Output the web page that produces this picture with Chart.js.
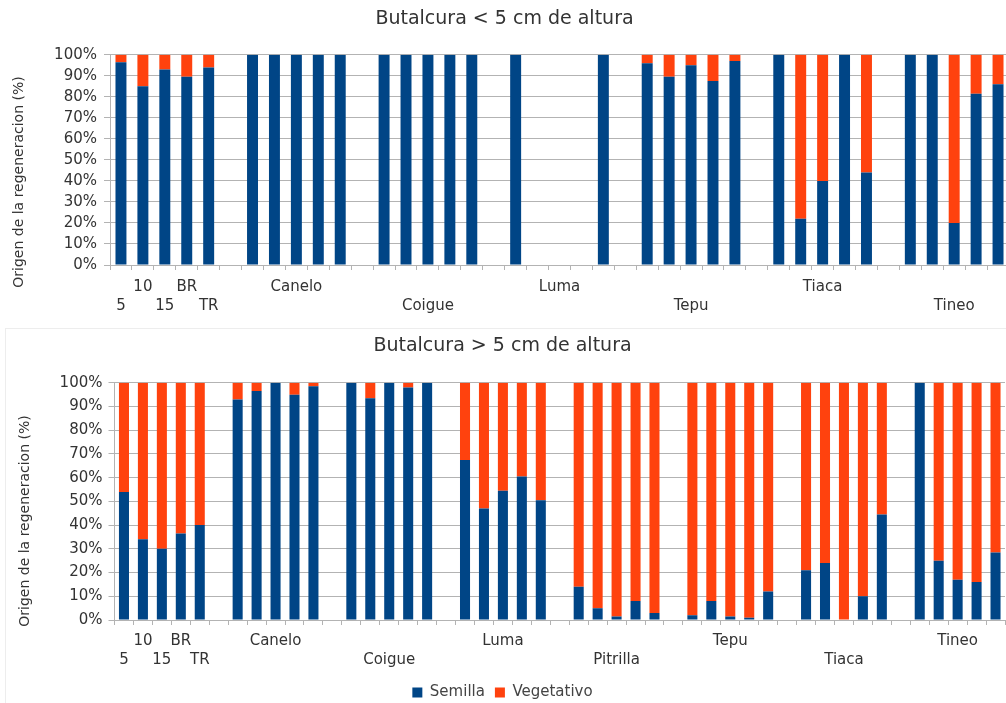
<!DOCTYPE html>
<html>
<head>
<meta charset="utf-8">
<script src="https://cdn.jsdelivr.net/npm/chart.js@4.4.0/dist/chart.umd.min.js"></script>
<style>
    html, body { margin: 0; padding: 0; background: #fff; overflow: hidden; width: 1006px; height: 703px; }
    #topChart { position: absolute; left: 0; top: 0; }
    #bottomChart { position: absolute; left: 0; top: 320px; }
    #frame { position: absolute; left: 5px; top: 328px; width: 1100px; height: 500px;
             border-left: 1px solid #ededed; border-top: 1px solid #ededed; }
</style>
</head>
<body>
<div id="frame"></div>
<canvas id="topChart" width="1010" height="320"></canvas>
<canvas id="bottomChart" width="1006" height="395"></canvas>
<script>
const sizeClasses = ['5', '10', '15', 'BR', 'TR'];
const yTicks = [0, 10, 20, 30, 40, 50, 60, 70, 80, 90, 100];

// Butalcura < 5 cm
const speciesLow = ['', 'Canelo', 'Coigue', 'Luma', 'Tepu', 'Tiaca', 'Tineo'];
const semillaLow = [
    [96.5, 85, 93, 89.5, 94],
    [100, 100, 100, 100, 100],
    [100, 100, 100, 100, 100],
    [100, null, null, null, 100],
    [96, 89.5, 95, 87.5, 97],
    [100, 22, 40, 100, 44],
    [100, 100, 20, 81.5, 86],
];
const vegetativoLow = [
    [3.5, 15, 7, 10.5, 6],
    [0, 0, 0, 0, 0],
    [0, 0, 0, 0, 0],
    [0, null, null, null, 0],
    [4, 10.5, 5, 12.5, 3],
    [0, 78, 60, 0, 56],
    [0, 0, 80, 18.5, 14],
];

// Butalcura > 5 cm
const speciesHigh = ['', 'Canelo', 'Coigue', 'Luma', 'Pitrilla', 'Tepu', 'Tiaca', 'Tineo'];
const semillaHigh = [
    [54, 34, 30, 36.5, 40],
    [93, 96.5, 100, 95, 98.5],
    [100, 93.5, 100, 98, 100],
    [67.5, 47, 54.5, 60.5, 50.5],
    [14, 5, 1.5, 8, 3],
    [2, 8, 1.5, 1, 12],
    [21, 24, 0, 10, 44.5],
    [100, 25, 17, 16, 28.5],
];
const vegetativoHigh = [
    [46, 66, 70, 63.5, 60],
    [7, 3.5, 0, 5, 1.5],
    [0, 6.5, 0, 2, 0],
    [32.5, 53, 45.5, 39.5, 49.5],
    [86, 95, 98.5, 92, 97],
    [98, 92, 98.5, 99, 88],
    [79, 76, 100, 90, 55.5],
    [0, 75, 83, 84, 71.5],
];

const BLUE = '#004586';
const ORANGE = '#ff420e';
const GRID = '#b3b3b3';
const TEXT = '#333';

Chart.defaults.font.family = '"DejaVu Sans", sans-serif';
Chart.defaults.color = TEXT;

// one slot per size class, an empty slot between species; labels alternate rows
function buildSlots(species, semilla, vegetativo) {
    const labels = [], sem = [], veg = [];
    let k = 0;
    species.forEach((name, g) => {
        if (g > 0) { labels.push(''); sem.push(null); veg.push(null); }
        for (let i = 0; i < 5; i++) {
            let text = '';
            if (g === 0) text = sizeClasses[i];
            else if (i === 2) text = name;
            if (text) {
                labels.push(k % 2 === 0 ? ['', text] : [text, '']);
                k++;
            } else {
                labels.push('');
            }
            sem.push(semilla[g][i]);
            veg.push(vegetativo[g][i]);
        }
    });
    return { labels, sem, veg };
}

const sideTitle = {
    id: 'sideTitle',
    afterDraw(chart, args, opts) {
        const ctx = chart.ctx;
        ctx.save();
        ctx.translate(opts.x, opts.y);
        ctx.rotate(-Math.PI / 2);
        ctx.font = '14px "DejaVu Sans"';
        ctx.fillStyle = TEXT;
        ctx.textAlign = 'center';
        ctx.textBaseline = 'middle';
        ctx.fillText(opts.text, 0, 0);
        ctx.restore();
    }
};

function makeChart(id, title, slots, cfg) {
    const ctx = document.getElementById(id).getContext('2d');
    return new Chart(ctx, {
        type: 'bar',
        data: {
            labels: slots.labels,
            datasets: [
                { label: 'Semilla', data: slots.sem, backgroundColor: BLUE,
                  barPercentage: cfg.barPct, categoryPercentage: 1 },
                { label: 'Vegetativo', data: slots.veg, backgroundColor: ORANGE,
                  barPercentage: cfg.barPct, categoryPercentage: 1 },
            ]
        },
        options: {
            responsive: false,
            animation: false,
            layout: { padding: cfg.padding },
            plugins: {
                title: {
                    display: true,
                    text: title,
                    color: TEXT,
                    font: { size: 19, weight: 'normal' },
                    padding: cfg.titlePad
                },
                legend: cfg.legend,
                tooltip: { enabled: false },
                sideTitle: { text: 'Origen de la regeneracion (%)', x: cfg.yTitleX, y: cfg.yTitleY }
            },
            scales: {
                x: {
                    stacked: true,
                    afterFit(scale) { scale.height = cfg.xHeight; },
                    grid: { drawOnChartArea: false, tickLength: 5, color: GRID },
                    border: { color: GRID },
                    ticks: {
                        autoSkip: false, maxRotation: 0, minRotation: 0,
                        padding: cfg.xPad,
                        font: { size: 15, lineHeight: 1.3 }
                    }
                },
                y: {
                    stacked: true,
                    min: 0,
                    max: 100,
                    afterFit(scale) { scale.width = cfg.yWidth; },
                    afterBuildTicks(scale) { scale.ticks = yTicks.map(v => ({ value: v })); },
                    grid: { color: GRID, tickLength: 6 },
                    border: { color: GRID },
                    ticks: {
                        padding: cfg.yPad,
                        font: { size: 15 },
                        callback: v => v + '%'
                    }
                }
            }
        },
        plugins: [sideTitle]
    });
}

makeChart('topChart', 'Butalcura < 5 cm de altura',
    buildSlots(speciesLow, semillaLow, vegetativoLow), {
        barPct: 0.5,
        padding: { top: 0, right: 1, bottom: 0, left: 0 },
        titlePad: { top: 8, bottom: 24 },
        legend: { display: false },
        xHeight: 55, xPad: 7,
        yWidth: 110, yPad: 7,
        yTitleX: 19, yTitleY: 182
    });

makeChart('bottomChart', 'Butalcura > 5 cm de altura',
    buildSlots(speciesHigh, semillaHigh, vegetativoHigh), {
        barPct: 0.53,
        padding: { top: 0, right: 1, bottom: 5, left: 0 },
        titlePad: { top: 15, bottom: 25 },
        legend: {
            display: true,
            position: 'bottom',
            labels: { boxWidth: 10, boxHeight: 10, padding: 10, color: '#444', font: { size: 15 } }
        },
        xHeight: 55, xPad: 6,
        yWidth: 114.5, yPad: 6,
        yTitleX: 25, yTitleY: 201
    });
</script>
</body>
</html>
